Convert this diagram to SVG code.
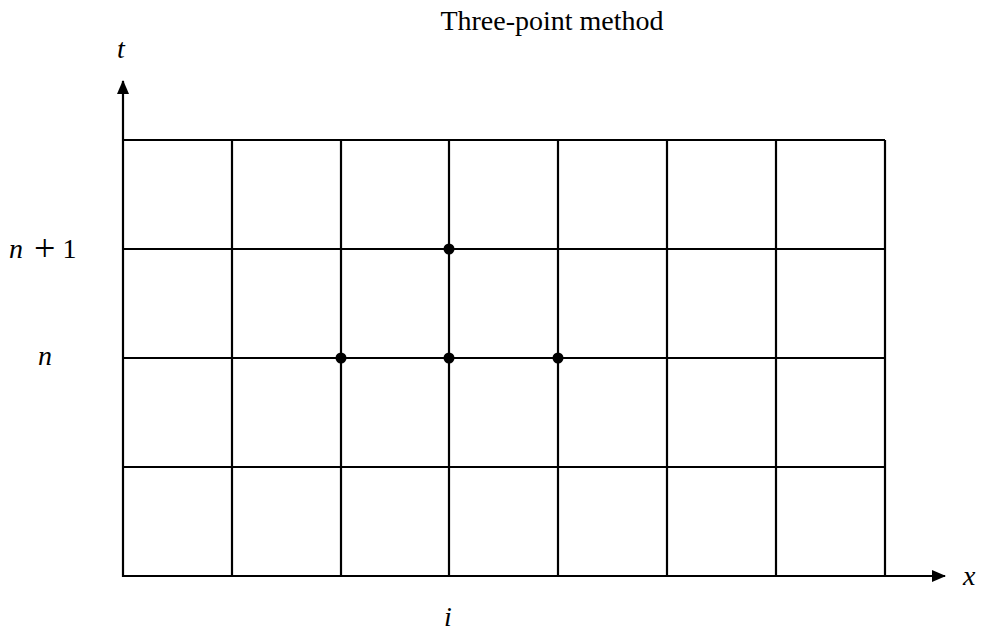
<svg xmlns="http://www.w3.org/2000/svg" width="981" height="633" viewBox="0 0 981 633">
<style>
.g{stroke:#000;fill:none;stroke-width:2.2}
.t{font-family:"Liberation Serif",serif;font-size:28px;fill:#000}
.i{font-style:italic}
</style>
<defs>
<marker id="ah" markerWidth="14" markerHeight="12" refX="13" refY="6" orient="auto" markerUnits="userSpaceOnUse">
<path d="M0,0 L14,6 L0,12 Z" fill="#000"/>
</marker>
</defs>
<rect width="981" height="633" fill="#fff"/>
<text class="t" x="552" y="30" text-anchor="middle">Three-point method</text>
<g id="grid">
<line class="g" x1="123" y1="140" x2="885" y2="140" stroke-width="2.8"/>
<line class="g" x1="123" y1="249" x2="885" y2="249" stroke-width="1.8"/>
<line class="g" x1="123" y1="358" x2="885" y2="358" stroke-width="2.8"/>
<line class="g" x1="123" y1="467" x2="885" y2="467" stroke-width="2.4"/>
<line class="g" x1="232" y1="140" x2="232" y2="576"/>
<line class="g" x1="341" y1="140" x2="341" y2="576"/>
<line class="g" x1="449" y1="140" x2="449" y2="576" stroke-width="2.8"/>
<line class="g" x1="558" y1="140" x2="558" y2="576"/>
<line class="g" x1="667" y1="140" x2="667" y2="576" stroke-width="2.8"/>
<line class="g" x1="776" y1="140" x2="776" y2="576"/>
<line class="g" x1="885" y1="140" x2="885" y2="576"/>
</g>
<g id="axes">
<line class="g" x1="123" y1="577" x2="123" y2="81" stroke-width="2.8" marker-end="url(#ah)"/>
<line class="g" x1="122" y1="576" x2="945" y2="576" stroke-width="2.8" marker-end="url(#ah)"/>
</g>
<g id="points">
<circle cx="449" cy="249" r="5.5"/>
<circle cx="341" cy="358" r="5.5"/>
<circle cx="449" cy="358" r="5.5"/>
<circle cx="558" cy="358" r="5.5"/>
</g>
<g id="labels">
<text class="t i" x="117" y="58">t</text>
<text class="t i" x="963" y="585">x</text>
<text class="t" x="9" y="258"><tspan class="i">n</tspan><tspan dx="11" font-size="38" dy="3">+</tspan><tspan dx="7" dy="-3">1</tspan></text>
<text class="t i" x="38" y="365">n</text>
<text class="t i" x="444" y="626">i</text>
</g>
</svg>
